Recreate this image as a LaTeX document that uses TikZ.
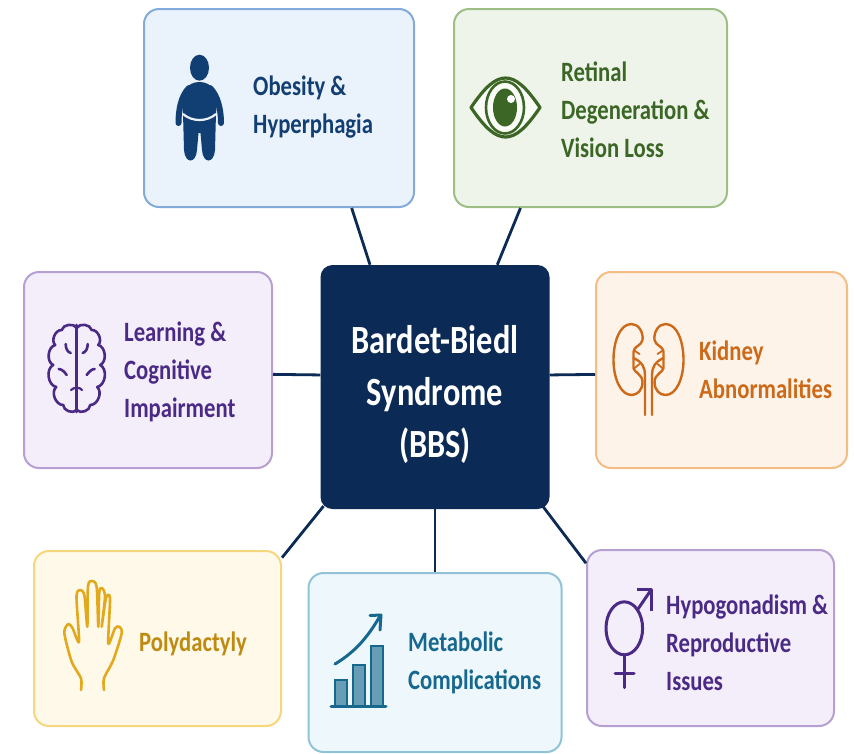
\documentclass[tikz,border=0pt]{standalone}
\usepackage{fontspec}
\setmainfont[FakeStretch=0.81]{Carlito}
\usetikzlibrary{arrows}

\definecolor{bluefill}{HTML}{EAF2FB}
\definecolor{blueline}{HTML}{82ABDC}
\definecolor{bluetext}{HTML}{123F73}
\definecolor{greenfill}{HTML}{EEF4E9}
\definecolor{greenline}{HTML}{9DBF85}
\definecolor{greentext}{HTML}{3B6626}
\definecolor{purplefill}{HTML}{F3EEFA}
\definecolor{purpleline}{HTML}{B79FD4}
\definecolor{purpletext}{HTML}{4B2A86}
\definecolor{orangefill}{HTML}{FDF3E8}
\definecolor{orangeline}{HTML}{F5BD86}
\definecolor{orangetext}{HTML}{CC6A1A}
\definecolor{yellowfill}{HTML}{FFF9E9}
\definecolor{yellowline}{HTML}{F6D77E}
\definecolor{yellowtext}{HTML}{BD8A12}
\definecolor{yellowicon}{HTML}{E3A91C}
\definecolor{tealfill}{HTML}{EEF7FB}
\definecolor{tealline}{HTML}{91C3D8}
\definecolor{tealtext}{HTML}{17688F}
\definecolor{navy}{HTML}{0B2A55}

\tikzset{
  topicbox/.style={draw, rounded corners=15pt, line width=2pt},
  topictext/.style={anchor=west, align=left, inner sep=0pt, font=\fontsize{28}{38}\selectfont\bfseries},
  link/.style={draw=navy, line width=2.8pt},
  iconline/.style={line width=3pt, line cap=round, line join=round}
}

\begin{document}
\begin{tikzpicture}[x=1pt,y=-1pt]
\useasboundingbox (0,0) rectangle (854,753);

\node[draw=none, fill=navy, rounded corners=12pt, minimum width=229pt, minimum height=244pt] at (435,387) (bbs) {};
\node[text=white, align=center, inner sep=0pt, font=\fontsize{40}{52}\selectfont\bfseries] at (435,394) (bbstext) {Bardet-Biedl\\Syndrome\\(BBS)};

\node[topicbox, draw=blueline, fill=bluefill, minimum width=270pt, minimum height=198pt] at (279,108) (obesity) {};
\node[topicbox, draw=greenline, fill=greenfill, minimum width=273pt, minimum height=198pt] at (590.5,108) (retinal) {};
\node[topicbox, draw=purpleline, fill=purplefill, minimum width=248pt, minimum height=196pt] at (148,370) (learning) {};
\node[topicbox, draw=orangeline, fill=orangefill, minimum width=251pt, minimum height=196pt] at (721.5,370) (kidney) {};
\node[topicbox, draw=yellowline, fill=yellowfill, minimum width=247pt, minimum height=175pt] at (157.5,638.5) (polydactyly) {};
\node[topicbox, draw=tealline, fill=tealfill, minimum width=253pt, minimum height=179pt] at (435,662.5) (metabolic) {};
\node[topicbox, draw=purpleline, fill=purplefill, minimum width=247pt, minimum height=176pt] at (710.5,638) (hypogonadism) {};

\draw[link] (bbs.118.9) to (obesity.-54);
\draw[link] (bbs.63.9) to (retinal.-125.8);
\draw[link] (bbs.174) to (learning.-2.3);
\draw[link] (bbs.6) to (kidney.182.3);
\draw[link, shorten <=-4pt] (bbs.227) to (polydactyly.33.1);
\draw[link] (bbs.south) to (metabolic.north);
\draw[link, shorten <=-4pt] (bbs.-48.2) to (hypogonadism.149);

\node[topictext, text=bluetext] at (253,107) (obesitytext) {Obesity \&\\Hyperphagia};
\node[topictext, text=greentext] at (561,110) (retinaltext) {Retinal\\Degeneration \&\\Vision Loss};
\node[topictext, text=purpletext] at (124,372) (learningtext) {Learning \&\\Cognitive\\Impairment};
\node[topictext, text=orangetext] at (699,370) (kidneytext) {Kidney\\Abnormalities};
\node[topictext, text=yellowtext] at (139,644) (polydactylytext) {Polydactyly};
\node[topictext, text=tealtext] at (408,663) (metabolictext) {Metabolic\\Complications};
\node[topictext, text=purpletext] at (666,643) (hypogonadismtext) {Hypogonadism \&\\Reproductive\\Issues};

% person
\fill[bluetext] (199.5,67.7) ellipse [x radius=9.5, y radius=13];
\fill[bluetext] (199.5,82) .. controls (212,82) and (219,92) .. (216,113)
  -- (215,150) .. controls (214,164) and (203,164) .. (202,150) -- (200.5,133) -- (198.5,133) -- (197,150)
  .. controls (196,164) and (185,164) .. (184,150) -- (183,113) .. controls (180,92) and (187,82) .. (199.5,82) -- cycle;
\draw[bluetext, line width=6pt, line cap=round] (189,88) .. controls (181,96) and (178.5,110) .. (178.5,123);
\draw[bluetext, line width=6pt, line cap=round] (210,88) .. controls (218,96) and (221,110) .. (221,123);
\draw[bluefill, line width=2.2pt] (183,114) .. controls (192,122) and (207,122) .. (216,114);

% eye
\draw[greentext, line width=3.2pt, fill=white!60!greenfill, line join=round] (471,107.5) .. controls (485,87) and (495,78) .. (505.5,78)
  .. controls (516,78) and (526,87) .. (540,107.5) .. controls (526,128) and (516,137) .. (505.5,137)
  .. controls (495,137) and (485,128) .. (471,107.5) -- cycle;
\draw[greentext, line width=2.6pt] (505,107.5) ellipse [x radius=19, y radius=26];
\fill[greentext] (505,107.5) ellipse [x radius=12, y radius=19];
\fill[white] (511,99) circle [radius=4];

% brain
\foreach \s in {1,-1} {
\begin{scope}[shift={(76.7,0)}, xscale=\s]
  \draw[purpletext, iconline, line width=2.6pt] (0,328) to[bend right=70] (-15,330) to[bend right=70] (-21.5,345)
    to[bend right=70] (-23.5,365) to[bend right=70] (-20.5,387) to[bend right=70] (-13.5,405) to[bend right=70] (0,410);
  \draw[purpletext, iconline, line width=2.6pt] (-11,344) .. controls (-11,349) and (-9,352) .. (-6,353);
  \draw[purpletext, iconline, line width=2.6pt] (-18,369) .. controls (-15,369) and (-12,372) .. (-10,375);
\end{scope}
}
\draw[purpletext, iconline, line width=2.6pt] (76.7,325) -- (76.7,412);
\draw[purpletext, iconline, line width=2.2pt] (71,390) .. controls (74,387) and (80,387) .. (82,390);

% kidneys
\foreach \s in {1,-1} {
\begin{scope}[shift={(648.5,0)}, xscale=\s]
  \draw[orangetext, iconline, line width=2.4pt] (-17,324) .. controls (-10,324) and (-5,332) .. (-6,340)
    .. controls (-7,346) and (-15,346) .. (-15,352) -- (-15,368)
    .. controls (-15,372) and (-6,374) .. (-6,382) .. controls (-6,390) and (-11,395) .. (-17,395)
    .. controls (-28,395) and (-35,378) .. (-35,360) .. controls (-35,342) and (-29,324) .. (-17,324) -- cycle;
  \draw[orangetext, iconline, line width=2.4pt] (-3.5,415) -- (-3.5,375) .. controls (-3.5,368) and (-6,362) .. (-15,358);
  \draw[orangetext, iconline, line width=1.8pt] (-9,354) -- (-15,350);
  \draw[orangetext, iconline, line width=1.8pt] (-9,364) -- (-15,369);
\end{scope}
}

% hand
\draw[yellowicon, iconline, line width=2.6pt] plot[smooth, tension=.45] coordinates {
  (81,690) (81,678.3) (71.7,661.7) (64.3,633) (68.3,624) (72.5,628) (79,641.7)
  (76.5,596) (80.7,590) (84.5,596) (87.3,626.7)
  (88,586) (92.3,581) (96.7,587) (98.3,626.7)
  (99.3,592) (102.3,588.3) (105,596.7) (101.7,626.7)
  (106,598) (110,598.3) (108.3,643.3) (115,628.3) (119.3,626.7) (121.7,633.3)
  (113.3,660) (104,678.3) (104,690)};

% chart
\foreach \xa/\xb/\ya in {335/346.7/680, 353.3/365/665, 371/383.3/645.7} {
  \draw[tealtext, line width=2pt, fill=tealtext!65!white] (\xa,706) rectangle (\xb,\ya);
}
\draw[tealtext, line width=3pt, line cap=round] (331,706) -- (386,706);
\draw[tealtext, iconline] (335,664) .. controls (355,652) and (368,637) .. (380,616);
\draw[tealtext, iconline] (370,615.5) -- (381,615) -- (380,630);

% gender
\draw[purpletext, line width=3pt] (624.3,628.3) ellipse [x radius=18.3, y radius=26.5];
\draw[purpletext, iconline] (624.3,655) -- (624.3,687.7);
\draw[purpletext, iconline] (615,673.3) -- (634,673.3);
\draw[purpletext, iconline] (637.3,610) -- (651,590);
\draw[purpletext, iconline, line cap=butt] (637,589.5) -- (651.3,589.5) -- (651.3,611);
\end{tikzpicture}
\end{document}
